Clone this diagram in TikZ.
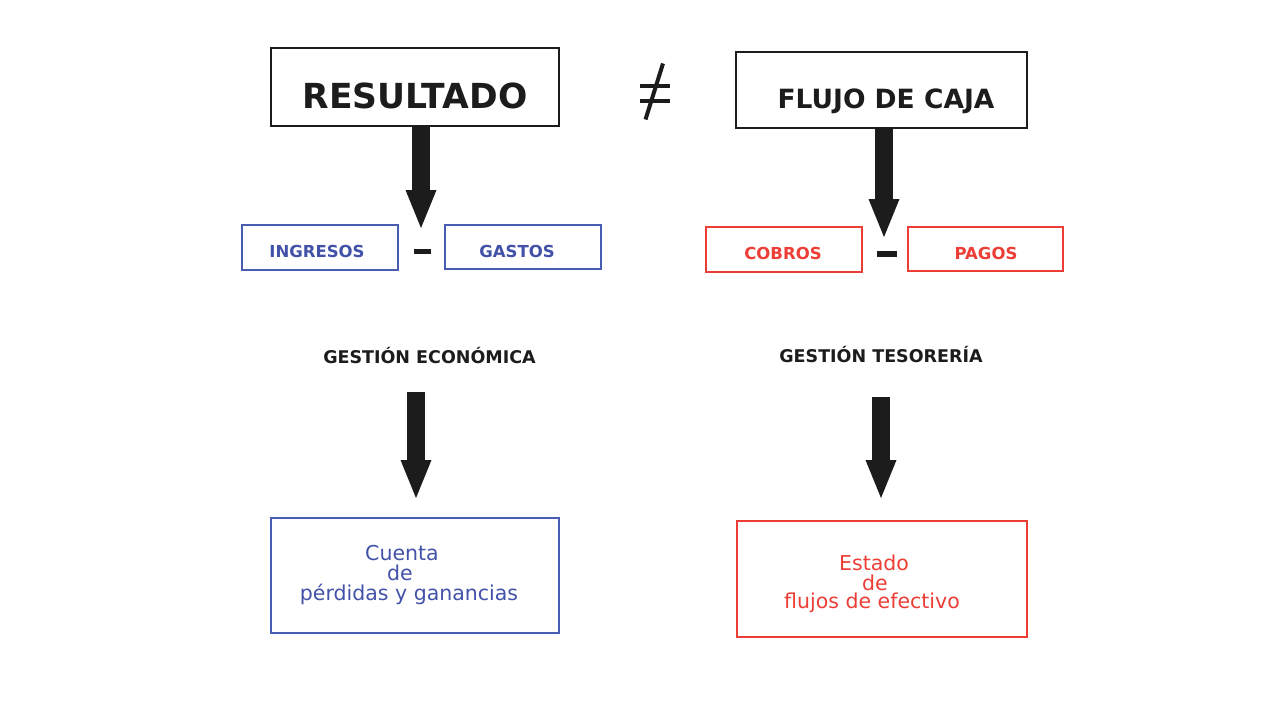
\documentclass[tikz,border=0pt]{standalone}
\usepackage{fontspec}
\setmainfont{DejaVu Sans}
\usetikzlibrary{arrows.meta}
\definecolor{bl}{RGB}{66,82,168}
\definecolor{blb}{RGB}{72,92,178}
\definecolor{rd}{RGB}{236,62,54}
\definecolor{ink}{RGB}{28,28,28}
\newcommand{\fs}[1]{\fontsize{#1}{#1}\selectfont}
\begin{document}
\begin{tikzpicture}[x=1pt,y=-1pt,
  box/.style={draw=ink, line width=1.5pt, inner sep=0pt, rectangle},
  bbox/.style={draw=blb, line width=1.6pt, inner sep=0pt, rectangle},
  rbox/.style={draw=rd, line width=1.6pt, inner sep=0pt, rectangle},
  txt/.style={anchor=base, inner sep=0pt},
  minus/.style={fill=ink, draw=none, inner sep=0pt, rectangle},
  fatarrow/.style={draw=ink, line width=18pt, -{Triangle[width=31pt,length=38pt,line width=0pt]}},
  neqline/.style={draw=ink, line width=4pt}]
\useasboundingbox[fill=white] (0,0) rectangle (1280,720);

% top boxes
\node[box, minimum width=288pt, minimum height=78pt] (res) at (415,87) {};
\node[txt, text=ink] (restxt) at (415,108) {\fs{34.5}\bfseries RESULTADO};
\node[box, minimum width=291pt, minimum height=76pt] (flu) at (881.5,90) {};
\node[txt, text=ink] (flutxt) at (886,108) {\fs{26.5}\bfseries FLUJO DE CAJA};

% not equal sign
\draw[neqline] (640,86) -- (670,86);
\draw[neqline] (640,100.5) -- (670,100.5);
\draw[neqline] (663,63.5) -- (645.5,119.5);

% second row
\node[bbox, minimum width=156pt, minimum height=45pt] (ing) at (320,247.5) {};
\node[txt, text=bl] (ingtxt) at (317,257) {\fs{16.5}\bfseries INGRESOS};
\node[bbox, minimum width=156pt, minimum height=44pt] (gas) at (523,247) {};
\node[txt, text=bl] (gastxt) at (517,257) {\fs{16.5}\bfseries GASTOS};
\node[minus, minimum width=17pt, minimum height=5.5pt] (m1) at (422.5,251.5) {};

\node[rbox, minimum width=156pt, minimum height=45pt] (cob) at (784,249.5) {};
\node[txt, text=rd] (cobtxt) at (783,259) {\fs{16.5}\bfseries COBROS};
\node[rbox, minimum width=155pt, minimum height=44pt] (pag) at (985.5,249) {};
\node[txt, text=rd] (pagtxt) at (986,259) {\fs{16.5}\bfseries PAGOS};
\node[minus, minimum width=20pt, minimum height=6pt] (m2) at (887,254) {};

% arrows from top boxes
\coordinate (t1) at (421,228);
\draw[fatarrow] (res.south -| t1) -- (t1);
\coordinate (t2) at (884,237);
\draw[fatarrow] (flu.south -| t2) -- (t2);

% headings
\node[txt, text=ink] (ge) at (429.5,363) {\fs{17.5}\bfseries GESTIÓN ECONÓMICA};
\node[txt, text=ink] (gt) at (881,362) {\fs{17.5}\bfseries GESTIÓN TESORERÍA};

% lower arrows
\coordinate (s3) at (416,392);
\coordinate (t3) at (416,498);
\draw[fatarrow] (s3) -- (t3);
\coordinate (s4) at (881,397);
\coordinate (t4) at (881,498);
\draw[fatarrow] (s4) -- (t4);

% bottom boxes
\node[bbox, minimum width=288pt, minimum height=115pt] (cue) at (415,575.5) {};
\node[txt, text=bl] (c1) at (402,560) {\fs{20.5}Cuenta};
\node[txt, text=bl] (c2) at (400,580) {\fs{20.5}de};
\node[txt, text=bl] (c3) at (409,600) {\fs{20.5}pérdidas y ganancias};

\node[rbox, minimum width=290pt, minimum height=116pt] (est) at (882,579) {};
\node[txt, text=rd] (e1) at (874,570) {\fs{20.5}Estado};
\node[txt, text=rd] (e2) at (875,590) {\fs{20.5}de};
\node[txt, text=rd] (e3) at (872,608) {\fs{20.5}flujos de efectivo};
\end{tikzpicture}
\end{document}
